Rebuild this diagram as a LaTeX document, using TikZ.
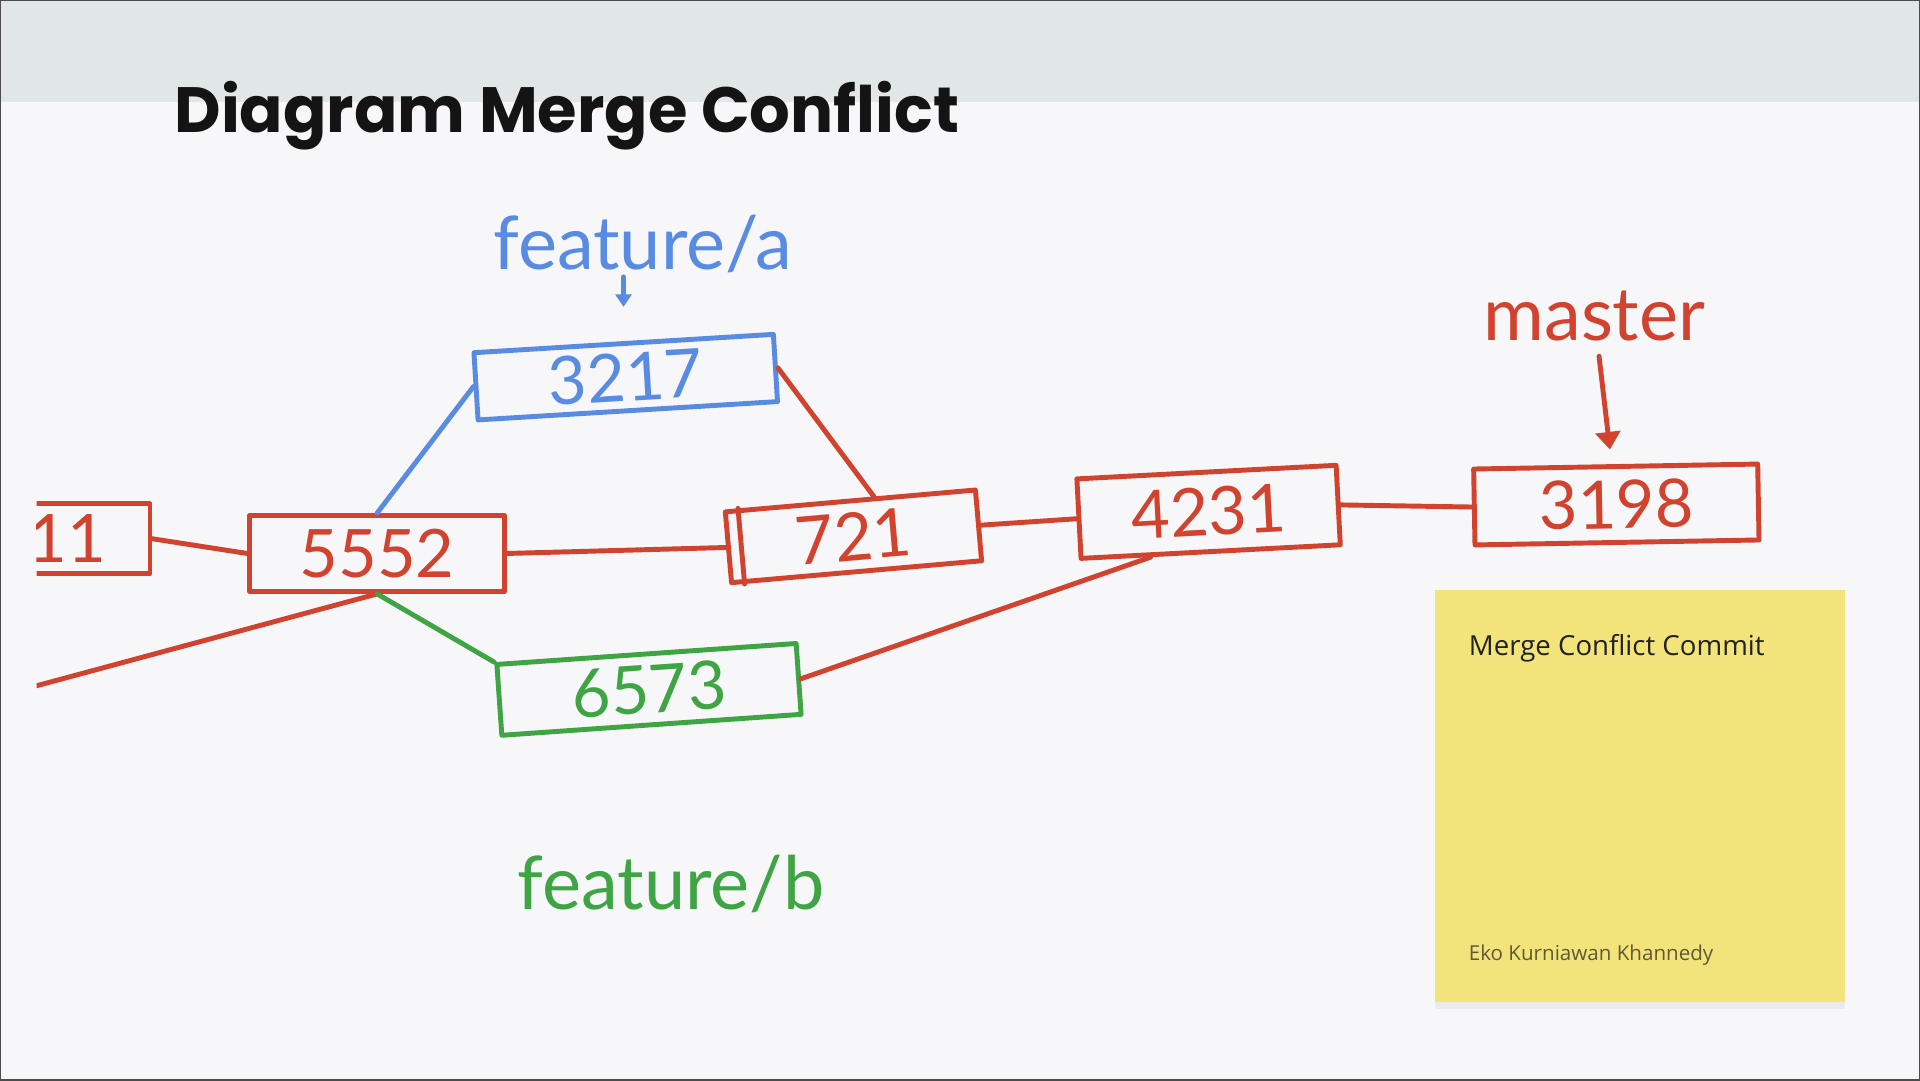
\documentclass[tikz,border=0pt]{standalone}
\usepackage{fontspec}
\setmainfont{Open Sans}
\newfontfamily\titlefont{Poppins}
\newfontfamily\handfont{Lato}
\usetikzlibrary{arrows.meta,shadows,calc}
\definecolor{wbred}{HTML}{D1432F}
\definecolor{wbblue}{HTML}{5A8BE3}
\definecolor{wbgreen}{HTML}{3FA443}
\definecolor{wbband}{HTML}{E1E6E6}
\definecolor{wbpaper}{HTML}{F7F7F9}
\definecolor{wbnote}{HTML}{F2E47A}
\definecolor{wbink}{HTML}{222222}
\definecolor{wbsign}{HTML}{5F5A35}
\newcommand\pxu{0.0122449cm}
\begin{document}
\begin{tikzpicture}[x=\pxu, y=\pxu,
  ink/.style={line width=1.4pt, line cap=round, line join=round},
  wh/.style 2 args={minimum width=#1*\pxu, minimum height=#2*\pxu},
  commit/.style={ink, draw=#1, text=#1, inner sep=0pt,
    font=\handfont\fontsize{19}{19}\selectfont},
  branch/.style={text=#1, inner sep=0pt,
    font=\handfont\fontsize{21}{21}\selectfont},
  redline/.style={ink, wbred},
  blueline/.style={ink, wbblue},
  greenline/.style={ink, wbgreen},
  redarr/.style={ink, wbred, -{Triangle[length=5pt, width=7pt]}},
  bluearr/.style={ink, wbblue, -{Triangle[length=3.5pt, width=4.5pt]}},
  note/.style={fill=wbnote, inner sep=0pt,
    drop shadow={shadow xshift=0pt, shadow yshift=-2pt, opacity=0.1}}]
\useasboundingbox (0,0) rectangle (1568,882);
\fill[wbpaper] (0,0) rectangle (1568,882);
\fill[wbband] (0,799) rectangle (1568,882);
\node[anchor=base west, inner sep=0pt, text=black!92,
  font=\titlefont\bfseries\fontsize{18.2}{18.2}\selectfont] (title) at (142,774)
  {Diagram Merge Conflict};

\begin{scope}
\clip (30,0) rectangle (1568,882);
\node[commit=wbred, wh={135}{57}] (c11) at (55,442) {11};
\coordinate (edge) at (30,322);
\end{scope}
\node[commit=wbred, wh={208}{62}] (c5552) at (308,430) {5552};
\node[commit=wbblue, wh={245}{55}, rotate=3.5] (c3217) at (511,574) {3217};
\node[commit=wbred, wh={205}{58}, rotate=5] (c721) at (697,444) {721};
\node[commit=wbred, wh={212}{65}, rotate=3] (c4231) at (987,464) {4231};
\node[commit=wbred, wh={232}{62}, rotate=1] (c3198) at (1320,470) {3198};
\node[commit=wbgreen, wh={245}{58}, rotate=4] (c6573) at (530,319) {6573};

\node[branch=wbblue] (fa) at (525,683) {feature/a};
\node[branch=wbred] (master) at (1302,624) {master};
\node[branch=wbgreen] (fb) at (548,160) {feature/b};

\draw[redline] ($(c721.south west)!0.06!(c721.south east)$)
  -- ($(c721.north west)!0.06!(c721.north east)$);
\begin{scope}
\clip (30,0) rectangle (1568,882);
\draw[redline] (edge) -- (c5552.south);
\end{scope}
\draw[redline] (c11.east) -- (c5552.west);
\draw[redline] (c5552.east) -- (c721.west);
\draw[redline] (c721.east) -- (c4231.west);
\draw[redline] (c4231.east) -- (c3198.west);
\draw[blueline] (c5552.north) -- (c3217.west);
\draw[redline] (c3217.east) -- (c721.58);
\draw[greenline] (c5552.south) -- (c6573.north west);
\draw[redline] (c6573.east) -- (c4231.215);
\draw[bluearr, shorten <=3*\pxu, shorten >=28*\pxu]
  (fa.south -| c3217.north) -- (c3217.north);
\draw[redarr, shorten <=12*\pxu, shorten >=12*\pxu] (master) -- (c3198);

\node[note, wh={335}{336}] (note) at (1339.5,232) {};
\node[anchor=base west, inner sep=0pt, text=wbink,
  font=\fontsize{7.85}{7.85}\selectfont] (notetitle) at (1199,347)
  {Merge Conflict Commit};
\node[anchor=base west, inner sep=0pt, text=wbsign,
  font=\fontsize{5.85}{5.85}\selectfont] (noteauthor) at (1199,98)
  {Eko Kurniawan Khannedy};
\draw[black!70, line width=0.8pt] (0,0) rectangle (1568,882);
\end{tikzpicture}
\end{document}
